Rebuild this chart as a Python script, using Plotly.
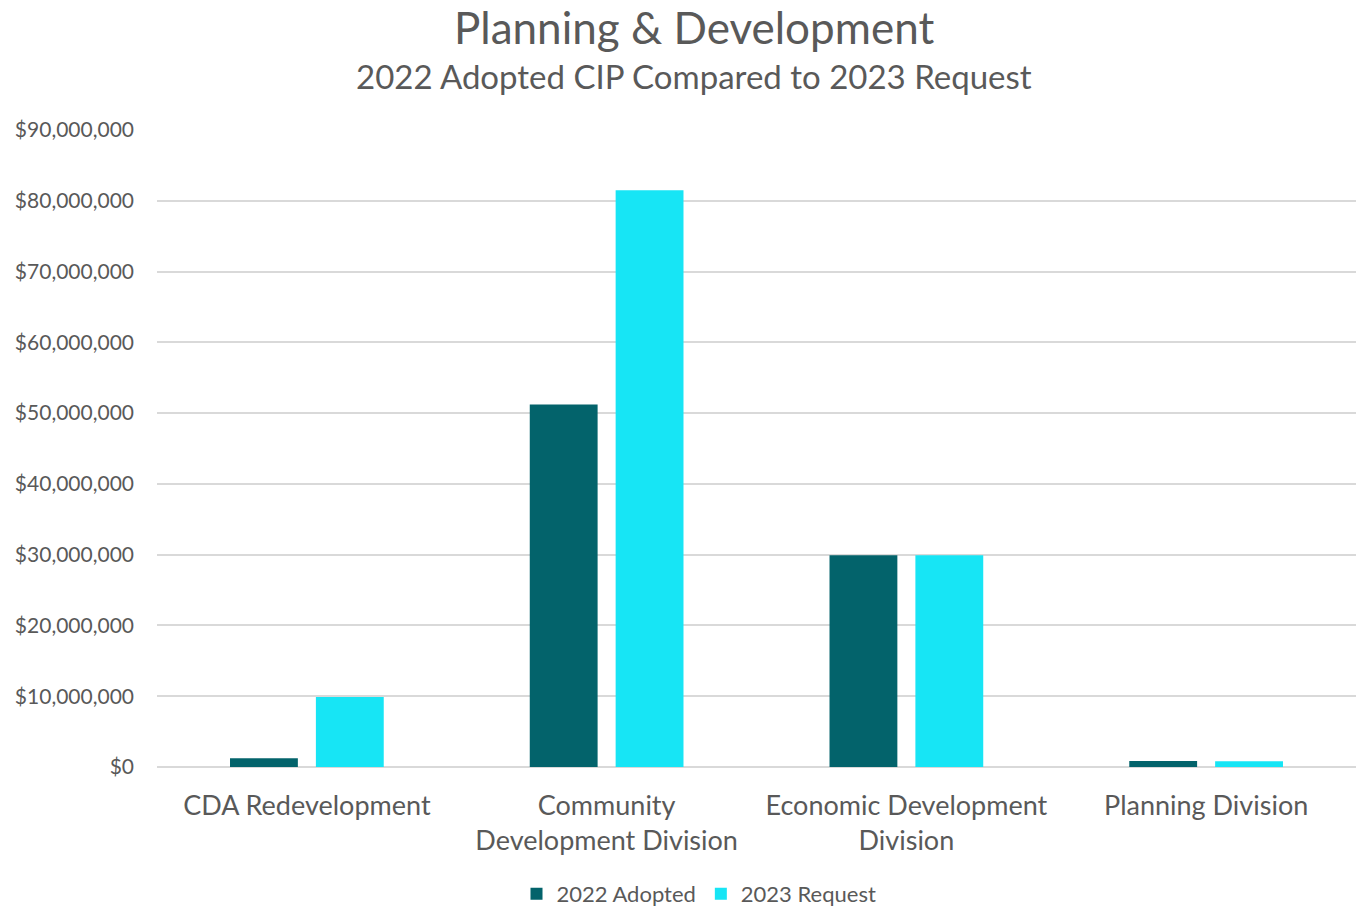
import plotly.graph_objects as go

# Capital improvement program by division
divisions = [
    "CDA Redevelopment",
    "Community<br>Development Division",
    "Economic Development<br>Division",
    "Planning Division",
]
adopted_2022 = [1250000, 51200000, 29900000, 850000]
request_2023 = [9900000, 81500000, 29900000, 800000]

y_ticks = [0, 10e6, 20e6, 30e6, 40e6, 50e6, 60e6, 70e6, 80e6, 90e6]

TEXT = "#595959"
FONT = "Lato, 'Noto Sans', sans-serif"

W, H = 1356, 908
L, T, B = 157, 130, 141
PH = H - T - B
PW = W - L


def px_to_paper(px, py):
    return (px - L) / PW, (H - B - py) / PH


tx, ty = px_to_paper(694, 27)
sx, sy = px_to_paper(694, 76)
lx, ly = px_to_paper(699, 894)

fig = go.Figure()
fig.add_trace(go.Bar(name="2022 Adopted", x=divisions, y=adopted_2022,
                     marker=dict(color="#03636B", line=dict(width=0))))
fig.add_trace(go.Bar(name="2023 Request", x=divisions, y=request_2023,
                     marker=dict(color="#17E5F5", line=dict(width=0))))

fig.update_layout(
    width=W, height=H,
    margin=dict(l=L, r=0, t=T, b=B, autoexpand=False),
    paper_bgcolor="white", plot_bgcolor="white",
    barmode="group", bargap=0.427, bargroupgap=0.21,
    font=dict(family=FONT, color=TEXT),
    showlegend=True,
    legend=dict(orientation="h", x=lx, xref="paper", xanchor="center",
                y=ly, yanchor="middle", font=dict(size=22, color=TEXT),
                traceorder="normal", tracegroupgap=0, itemwidth=30),
    annotations=[
        dict(text="Planning & Development", xref="paper", yref="paper",
             x=tx, y=ty, yanchor="middle", showarrow=False,
             font=dict(size=44, color=TEXT, family=FONT)),
        dict(text="2022 Adopted CIP Compared to 2023 Request", xref="paper",
             yref="paper", x=sx, y=sy, yanchor="middle",
             showarrow=False, font=dict(size=33, color=TEXT, family=FONT)),
    ],
)

fig.update_yaxes(range=[0, 90e6], tickvals=y_ticks, tickformat="$,.0f",
                 showgrid=True, gridcolor="#D9D9D9", gridwidth=2,
                 zeroline=True, zerolinecolor="#D9D9D9", zerolinewidth=2,
                 showline=False, ticks="", ticklabelstandoff=22,
                 automargin=False, tickfont=dict(size=21, color=TEXT))
fig.update_xaxes(showline=False, ticks="", tickfont=dict(size=27, color=TEXT),
                 tickangle=0, automargin=False, ticklabelstandoff=20)

fig.write_html("out.html")
